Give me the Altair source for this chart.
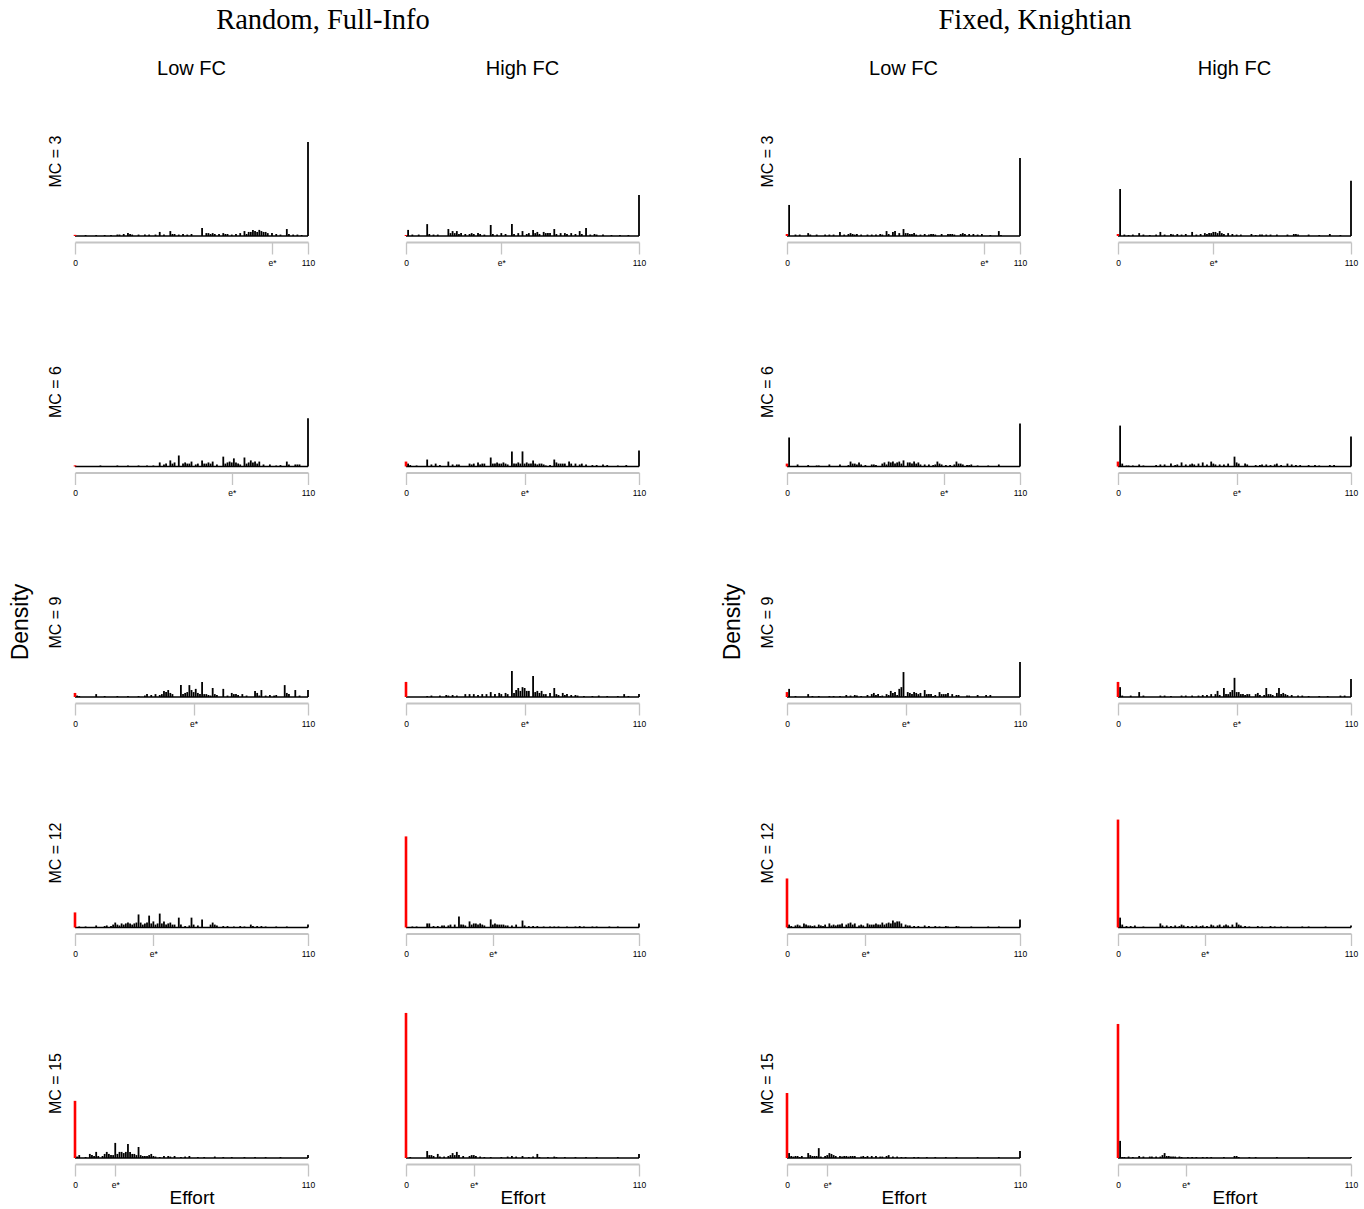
import altair as alt
import pandas as pd

# ---------------- labels ----------------
TREATMENTS = ["Random, Full-Info", "Fixed, Knightian"]
FC_LEVELS = ["Low FC", "High FC"]
MC_LEVELS = [3, 6, 9, 12, 15]
X_TITLE = "Effort"
Y_TITLE = "Density"
EFFORT_RANGE = [0, 110]
E_STAR_LOW_FC = [93, 74, 56, 37, 19]
E_STAR_HIGH_FC = [45, 56, 56, 41, 32]

# ---------------- densities (% of choices at each effort level) ----------------
RF_LOW_MC3 = {0: 0.4, 5: 0.35, 10: 0.35, 14: 0.35, 17: 0.35, 20: 0.5, 21: 0.5, 23: 0.7, 25: 1.0, 26: 0.7,
              27: 0.5, 30: 0.5, 33: 0.5, 35: 0.5, 38: 0.5, 40: 1.4, 42: 0.5, 45: 1.7, 46: 0.7, 47: 0.7,
              49: 0.5, 51: 0.7, 53: 0.5, 55: 0.7, 60: 2.8, 62: 1.0, 63: 1.0, 64: 0.7, 65: 1.0, 66: 0.7,
              68: 0.7, 70: 1.0, 71: 0.7, 72: 0.7, 74: 0.5, 76: 0.7, 78: 1.0, 80: 1.7, 81: 0.7, 82: 1.4,
              83: 1.4, 84: 2.1, 85: 1.7, 86: 1.4, 87: 2.1, 88: 1.7, 89: 1.4, 90: 1.4, 91: 1.0, 93: 1.0,
              95: 0.7, 97: 0.5, 100: 2.4, 101: 0.7, 103: 0.5, 105: 0.5, 107: 0.35, 110: 32.4}
RF_LOW_MC6 = {0: 0.4, 12: 0.35, 20: 0.35, 25: 0.35, 30: 0.35, 34: 0.35, 37: 0.35, 40: 1.4, 42: 0.7, 43: 1.0,
              45: 2.1, 46: 1.0, 47: 1.4, 49: 3.8, 51: 1.0, 52: 1.4, 53: 1.0, 54: 1.0, 55: 1.7, 57: 0.7,
              58: 1.0, 60: 2.1, 61: 1.0, 62: 1.0, 63: 1.4, 64: 1.0, 65: 1.7, 67: 0.7, 70: 3.4, 71: 1.0,
              72: 1.4, 73: 1.7, 74: 1.4, 75: 2.8, 76: 1.4, 77: 1.0, 78: 0.7, 80: 3.1, 81: 1.0, 82: 1.4,
              83: 2.1, 84: 1.4, 85: 1.7, 86: 1.0, 87: 1.7, 89: 0.7, 92: 0.7, 95: 0.35, 97: 0.5, 100: 1.7,
              101: 0.7, 104: 0.7, 105: 0.7, 106: 0.7, 110: 16.6}
RF_LOW_MC9 = {0: 1.4, 1: 0.5, 2: 0.35, 10: 1.0, 14: 0.35, 20: 0.35, 25: 0.35, 30: 0.35, 33: 0.5, 34: 1.0,
              36: 0.7, 38: 1.0, 40: 0.7, 41: 1.0, 42: 2.1, 43: 1.7, 44: 2.4, 45: 1.4, 46: 1.0, 50: 4.1,
              51: 1.0, 52: 1.4, 53: 1.7, 54: 4.1, 55: 2.4, 56: 1.7, 57: 2.8, 58: 1.4, 59: 1.0, 60: 5.2,
              61: 1.0, 62: 1.0, 63: 0.7, 64: 0.5, 65: 3.1, 66: 1.0, 67: 0.7, 70: 2.8, 72: 0.5, 74: 1.4,
              75: 1.0, 76: 1.0, 77: 0.7, 79: 1.0, 81: 0.5, 85: 2.1, 86: 1.4, 87: 0.5, 88: 2.4, 90: 0.5,
              92: 0.7, 94: 0.5, 95: 0.7, 99: 4.1, 100: 1.4, 101: 1.0, 104: 2.4, 106: 0.5, 110: 2.4}
RF_LOW_MC12 = {0: 5.2, 2: 0.35, 5: 0.35, 10: 0.7, 14: 0.5, 15: 0.7, 17: 0.5, 18: 1.0, 19: 1.7, 20: 1.0,
               21: 0.7, 22: 1.4, 23: 1.0, 24: 1.4, 25: 1.7, 26: 1.4, 27: 1.0, 28: 1.4, 29: 1.7, 30: 4.5,
               31: 1.7, 32: 1.0, 33: 1.4, 34: 1.7, 35: 4.1, 36: 1.4, 37: 2.1, 38: 1.0, 39: 1.4, 40: 4.8,
               41: 1.4, 42: 2.1, 43: 1.0, 44: 1.4, 45: 1.7, 46: 1.0, 47: 1.0, 49: 3.4, 50: 1.0, 52: 0.5,
               54: 0.7, 55: 3.4, 56: 1.0, 58: 0.7, 60: 2.8, 64: 1.0, 65: 1.7, 66: 1.0, 67: 0.7, 70: 0.5,
               72: 0.5, 75: 0.35, 78: 0.5, 80: 0.35, 83: 1.0, 84: 0.5, 86: 0.5, 88: 0.5, 90: 0.35,
               95: 0.35, 100: 0.35, 110: 1.0}
RF_LOW_MC15 = {0: 19.7, 1: 0.5, 2: 1.0, 5: 0.35, 7: 1.4, 8: 1.0, 9: 0.7, 10: 2.1, 11: 0.7, 13: 0.7,
               14: 1.4, 15: 2.1, 16: 1.4, 17: 1.0, 18: 1.0, 19: 5.2, 20: 1.4, 21: 2.1, 22: 2.1, 23: 1.7,
               24: 2.1, 25: 4.8, 26: 2.1, 27: 1.4, 28: 1.4, 29: 1.0, 30: 3.8, 31: 1.0, 32: 0.7, 33: 0.7,
               34: 0.7, 35: 1.0, 36: 1.4, 37: 0.7, 38: 0.5, 40: 0.35, 42: 0.7, 44: 0.7, 45: 0.5, 47: 0.7,
               50: 0.35, 52: 0.5, 54: 0.7, 58: 0.35, 61: 0.35, 66: 0.5, 70: 0.35, 74: 0.35, 80: 0.35,
               85: 0.35, 90: 0.35, 97: 0.35, 110: 1.0}

RF_HIGH_MC3 = {0: 0.35, 1: 2.1, 3: 0.5, 6: 0.5, 10: 4.1, 11: 0.7, 13: 0.5, 15: 0.5, 20: 2.4, 21: 1.0,
               22: 1.7, 23: 1.0, 24: 1.7, 25: 0.7, 26: 1.0, 28: 0.7, 30: 0.7, 31: 1.0, 32: 0.7, 34: 1.0,
               35: 0.7, 37: 0.5, 40: 3.8, 41: 0.7, 43: 0.5, 45: 1.0, 47: 0.7, 50: 4.1, 51: 0.7, 53: 1.0,
               55: 1.7, 57: 0.7, 58: 1.0, 60: 2.1, 61: 1.0, 62: 1.4, 63: 0.7, 65: 1.4, 66: 1.0, 67: 1.0,
               68: 1.0, 70: 2.4, 71: 0.7, 73: 1.0, 75: 1.0, 76: 0.7, 78: 1.0, 80: 0.7, 82: 1.7, 83: 0.7,
               85: 2.8, 87: 0.5, 89: 0.7, 90: 0.5, 93: 0.5, 97: 0.35, 101: 0.35, 105: 0.35, 110: 14.1}
RF_HIGH_MC6 = {0: 1.7, 1: 1.0, 2: 0.5, 5: 0.35, 10: 2.4, 12: 0.7, 14: 1.0, 16: 0.5, 20: 1.7, 22: 0.7,
               24: 0.7, 25: 0.7, 30: 1.0, 31: 0.7, 32: 1.0, 34: 1.4, 35: 0.7, 36: 1.0, 37: 1.0, 40: 3.1,
               41: 1.0, 42: 1.0, 43: 1.4, 44: 1.0, 45: 1.0, 46: 1.4, 47: 1.0, 48: 0.7, 50: 5.2, 51: 1.0,
               52: 1.0, 53: 1.4, 54: 1.0, 55: 5.2, 56: 1.0, 57: 1.4, 58: 1.0, 59: 1.0, 60: 2.1, 61: 1.0,
               62: 0.7, 63: 1.0, 64: 1.0, 65: 0.7, 66: 0.35, 68: 0.5, 70: 2.4, 71: 1.4, 72: 1.0, 73: 1.0,
               74: 1.0, 75: 1.0, 77: 1.7, 78: 1.0, 80: 1.0, 82: 0.7, 83: 1.0, 85: 0.7, 88: 0.5, 90: 0.5,
               93: 0.7, 95: 0.5, 100: 0.35, 104: 0.5, 110: 5.5}
RF_HIGH_MC9 = {0: 5.2, 10: 0.35, 12: 0.5, 16: 0.5, 19: 0.7, 20: 0.5, 22: 0.7, 24: 0.5, 28: 1.0, 30: 1.0,
               32: 1.0, 34: 0.7, 36: 1.0, 38: 1.0, 40: 1.7, 42: 1.0, 44: 1.4, 45: 1.0, 47: 1.4, 48: 1.0,
               50: 9.0, 51: 1.4, 52: 2.4, 53: 3.1, 54: 2.1, 55: 3.4, 56: 3.1, 57: 2.1, 58: 2.1, 60: 7.2,
               61: 1.7, 62: 2.1, 63: 1.4, 64: 2.1, 65: 1.0, 66: 1.0, 68: 1.4, 70: 3.1, 71: 1.0, 72: 0.7,
               74: 1.4, 75: 0.7, 76: 1.0, 78: 0.7, 80: 0.7, 81: 0.5, 84: 0.35, 88: 0.35, 91: 0.5,
               95: 0.35, 100: 0.35, 103: 1.0, 105: 0.35, 110: 1.0}
RF_HIGH_MC12 = {0: 31.4, 3: 0.35, 5: 0.35, 10: 1.4, 11: 1.4, 13: 0.5, 15: 0.5, 17: 0.7, 18: 0.7, 20: 0.7,
                21: 1.0, 23: 1.0, 25: 3.8, 26: 1.0, 27: 1.0, 28: 0.7, 30: 2.1, 31: 1.0, 32: 1.4, 33: 1.4,
                34: 1.0, 35: 1.4, 36: 1.0, 37: 0.7, 40: 2.8, 41: 1.0, 42: 1.4, 43: 1.0, 44: 1.0, 45: 1.0,
                46: 1.0, 47: 0.7, 48: 0.7, 50: 0.7, 52: 1.0, 55: 2.4, 56: 0.7, 58: 0.5, 60: 0.5, 62: 0.5,
                65: 0.35, 68: 0.35, 70: 0.35, 72: 0.35, 76: 0.35, 80: 0.35, 82: 0.5, 84: 0.35, 88: 0.35,
                90: 0.35, 96: 0.35, 100: 0.35, 110: 1.4}
RF_HIGH_MC15 = {0: 50.0, 2: 0.35, 10: 2.4, 11: 1.0, 12: 1.0, 13: 0.7, 15: 1.4, 16: 0.5, 18: 0.5, 20: 0.7,
                21: 1.0, 22: 1.7, 23: 1.0, 24: 2.1, 25: 1.0, 27: 0.7, 30: 0.7, 31: 1.0, 32: 1.0, 33: 0.7,
                35: 0.5, 37: 0.35, 40: 0.35, 45: 0.35, 48: 0.5, 50: 0.7, 52: 0.5, 55: 0.7, 58: 0.35,
                60: 0.5, 62: 1.4, 63: 0.35, 67: 0.35, 70: 0.5, 71: 0.35, 75: 0.35, 80: 0.35, 85: 0.35,
                90: 0.35, 100: 0.35, 110: 1.4}

FK_LOW_MC3 = {0: 0.7, 1: 10.7, 4: 0.5, 6: 0.5, 10: 1.0, 11: 0.5, 14: 0.5, 18: 0.5, 20: 0.5, 22: 0.5,
              25: 1.4, 27: 0.5, 29: 0.7, 30: 1.0, 31: 0.7, 32: 0.5, 33: 0.7, 35: 0.5, 38: 0.5, 40: 0.5,
              42: 0.5, 44: 0.7, 45: 0.5, 47: 1.7, 48: 0.7, 50: 1.4, 51: 1.7, 53: 1.0, 55: 2.4, 56: 1.0,
              57: 1.0, 58: 0.7, 59: 0.7, 60: 1.0, 61: 0.5, 63: 0.5, 65: 0.7, 67: 0.5, 68: 0.7, 69: 0.7,
              70: 0.5, 73: 0.7, 76: 0.7, 77: 0.7, 78: 0.7, 79: 0.5, 82: 0.7, 83: 1.0, 84: 0.7, 86: 0.7,
              88: 0.7, 90: 0.5, 92: 0.7, 96: 0.35, 100: 1.7, 101: 0.35, 110: 26.9}
FK_LOW_MC6 = {0: 1.0, 1: 10.0, 5: 0.7, 10: 0.5, 14: 0.35, 15: 0.35, 20: 0.7, 25: 0.7, 29: 0.5, 30: 1.7,
              31: 1.0, 32: 1.0, 33: 0.7, 34: 1.4, 35: 0.7, 37: 0.5, 40: 0.7, 41: 0.7, 42: 0.5, 45: 1.0,
              46: 1.4, 47: 0.7, 48: 1.7, 49: 1.4, 50: 1.7, 51: 1.0, 52: 1.4, 53: 1.7, 54: 1.0, 55: 2.1,
              57: 1.4, 58: 1.4, 59: 1.0, 60: 1.7, 61: 1.0, 62: 1.4, 63: 0.7, 65: 0.7, 67: 0.7, 69: 0.5,
              70: 0.7, 71: 1.7, 72: 1.0, 73: 0.7, 75: 0.5, 77: 0.5, 79: 0.7, 80: 1.7, 81: 1.0, 82: 1.0,
              83: 0.7, 85: 0.5, 86: 0.5, 87: 0.7, 90: 0.35, 95: 0.35, 100: 0.7, 110: 14.8}
FK_LOW_MC9 = {0: 1.7, 1: 2.8, 4: 0.35, 10: 1.0, 12: 0.35, 15: 0.35, 20: 0.35, 22: 0.35, 25: 0.35, 28: 0.7,
              30: 0.5, 32: 0.7, 33: 0.5, 35: 0.35, 38: 0.7, 40: 1.0, 41: 1.4, 42: 0.7, 43: 1.0, 44: 0.35,
              45: 0.5, 47: 1.0, 48: 0.7, 49: 2.1, 50: 1.4, 51: 1.7, 52: 0.7, 53: 2.8, 54: 3.4, 55: 8.6,
              56: 0.35, 57: 1.7, 58: 1.4, 59: 1.0, 60: 1.7, 61: 1.4, 62: 1.0, 63: 1.4, 65: 2.4, 66: 1.0,
              67: 1.0, 68: 1.0, 69: 0.35, 70: 0.7, 72: 1.7, 73: 1.0, 74: 1.0, 75: 1.0, 76: 1.4, 78: 1.0,
              80: 0.7, 81: 0.7, 85: 0.5, 86: 0.5, 90: 0.7, 94: 0.7, 96: 0.7, 110: 12.1}
FK_LOW_MC12 = {0: 16.9, 1: 1.0, 2: 0.5, 4: 0.7, 5: 1.0, 6: 0.7, 8: 1.4, 9: 1.0, 10: 0.7, 11: 0.7,
               12: 0.5, 13: 0.7, 15: 1.0, 16: 0.7, 17: 0.5, 18: 1.0, 20: 1.4, 21: 0.7, 22: 1.0, 23: 0.7,
               24: 1.0, 25: 1.0, 26: 1.4, 28: 1.0, 29: 1.4, 30: 1.7, 31: 1.0, 32: 1.4, 34: 0.7, 35: 1.0,
               36: 0.7, 38: 1.4, 39: 1.0, 40: 1.0, 41: 1.0, 42: 1.4, 43: 1.0, 44: 1.0, 45: 1.7, 46: 1.0,
               47: 1.4, 48: 1.7, 49: 1.4, 50: 2.4, 51: 1.7, 52: 2.1, 53: 2.1, 54: 1.4, 56: 1.0, 57: 0.7,
               58: 0.7, 60: 0.5, 62: 0.5, 65: 0.7, 67: 0.5, 70: 0.5, 72: 0.35, 75: 0.5, 76: 0.35,
               80: 0.5, 81: 0.35, 87: 0.35, 95: 0.35, 100: 0.35, 110: 2.8}
FK_LOW_MC15 = {0: 22.4, 1: 1.7, 2: 0.7, 3: 0.5, 4: 0.7, 5: 0.7, 6: 0.35, 7: 0.7, 10: 1.7, 11: 1.0,
               12: 0.7, 13: 0.7, 14: 0.7, 15: 3.4, 16: 0.5, 18: 0.7, 19: 1.0, 20: 1.7, 21: 1.4, 22: 1.0,
               23: 0.7, 25: 0.7, 26: 0.5, 27: 0.7, 28: 0.7, 29: 0.5, 30: 0.7, 31: 0.7, 32: 0.7, 35: 0.5,
               36: 0.7, 37: 0.35, 38: 0.7, 40: 0.7, 42: 0.7, 44: 0.5, 45: 0.5, 47: 0.7, 48: 1.0, 50: 0.5,
               52: 0.5, 54: 0.35, 56: 0.35, 60: 0.35, 62: 0.35, 66: 0.35, 70: 0.35, 75: 0.35, 80: 0.35,
               90: 0.35, 100: 0.35, 110: 2.4}

FK_HIGH_MC3 = {0: 0.7, 1: 16.2, 3: 0.5, 5: 0.35, 7: 0.5, 10: 1.0, 12: 0.5, 15: 0.35, 18: 0.5, 20: 1.4,
               22: 0.5, 25: 0.7, 26: 0.5, 28: 0.7, 30: 0.5, 32: 0.7, 35: 1.4, 37: 0.5, 39: 0.7, 41: 1.0,
               42: 0.7, 43: 1.0, 44: 1.0, 45: 1.4, 46: 1.4, 47: 1.0, 48: 1.7, 49: 1.0, 50: 0.7, 52: 1.0,
               54: 0.7, 56: 0.5, 58: 0.5, 63: 0.7, 65: 0.35, 67: 0.5, 68: 0.5, 70: 0.5, 72: 0.5, 75: 0.5,
               80: 0.5, 83: 0.7, 84: 0.7, 85: 0.5, 90: 0.5, 95: 0.35, 100: 0.7, 105: 0.35, 110: 19.0}
FK_HIGH_MC6 = {0: 1.7, 1: 14.1, 2: 1.0, 4: 0.35, 5: 0.35, 7: 0.35, 10: 0.7, 12: 0.35, 18: 0.5, 20: 0.7,
               22: 0.7, 25: 1.0, 27: 0.5, 28: 0.7, 30: 1.4, 32: 0.7, 34: 0.7, 35: 1.0, 36: 0.7, 38: 1.0,
               40: 1.4, 42: 0.7, 44: 1.7, 45: 1.0, 46: 0.7, 48: 0.7, 50: 0.7, 52: 1.0, 55: 3.4, 56: 1.4,
               57: 1.0, 60: 1.0, 61: 0.7, 65: 0.5, 67: 0.5, 68: 0.7, 70: 0.7, 72: 0.5, 74: 0.7, 75: 1.0,
               77: 0.5, 80: 1.0, 82: 0.7, 84: 0.5, 86: 0.5, 90: 0.5, 93: 0.5, 95: 0.35, 100: 0.5,
               102: 0.5, 110: 10.3}
FK_HIGH_MC9 = {0: 5.2, 1: 3.4, 2: 0.5, 6: 0.5, 10: 1.7, 12: 0.5, 20: 0.5, 22: 0.5, 25: 0.35, 30: 0.5,
               32: 0.5, 35: 0.5, 38: 0.5, 40: 0.7, 42: 0.7, 44: 1.0, 46: 1.0, 47: 2.1, 48: 0.7, 50: 3.1,
               51: 1.0, 52: 1.0, 53: 1.7, 54: 2.4, 55: 6.6, 56: 1.7, 57: 1.7, 58: 1.0, 59: 1.0, 60: 0.7,
               61: 1.0, 62: 1.0, 65: 1.0, 66: 1.4, 67: 0.7, 69: 0.7, 70: 3.1, 71: 1.0, 72: 1.0, 73: 0.7,
               75: 1.4, 76: 3.1, 77: 1.0, 78: 1.4, 79: 1.0, 80: 0.7, 82: 0.7, 85: 0.5, 87: 0.5, 90: 0.35,
               95: 0.35, 99: 0.35, 105: 0.5, 107: 0.5, 110: 6.2}
FK_HIGH_MC12 = {0: 37.2, 1: 3.4, 2: 1.0, 4: 0.5, 6: 0.5, 8: 0.7, 12: 0.35, 20: 1.4, 21: 0.7, 23: 0.7,
                25: 0.5, 27: 0.7, 29: 0.5, 30: 1.0, 31: 0.7, 33: 0.5, 35: 0.5, 37: 0.7, 39: 0.5, 40: 0.7,
                42: 0.5, 44: 1.0, 45: 0.7, 47: 0.7, 48: 1.0, 50: 0.7, 51: 1.0, 52: 0.7, 54: 1.0, 56: 1.7,
                57: 1.0, 58: 0.7, 60: 0.5, 62: 0.35, 66: 0.5, 68: 0.35, 72: 0.5, 74: 0.35, 77: 0.35,
                80: 0.35, 87: 0.35, 90: 0.35, 98: 0.35, 110: 0.7}
FK_HIGH_MC15 = {0: 46.2, 1: 5.9, 2: 0.35, 3: 0.35, 5: 0.5, 7: 0.35, 10: 0.7, 12: 0.5, 15: 0.5, 16: 0.5,
                18: 0.5, 20: 0.5, 21: 1.0, 22: 1.7, 23: 0.7, 24: 0.7, 25: 0.5, 26: 0.5, 27: 0.5, 29: 0.5,
                30: 0.35, 33: 0.35, 35: 0.35, 37: 0.35, 40: 0.35, 42: 0.35, 44: 0.35, 50: 0.35, 55: 0.7,
                56: 0.7, 57: 0.35, 62: 0.35, 65: 0.35, 75: 0.35, 90: 0.35, 110: 0.35}

HIST = {
    (TREATMENTS[0], FC_LEVELS[0]): [RF_LOW_MC3, RF_LOW_MC6, RF_LOW_MC9, RF_LOW_MC12, RF_LOW_MC15],
    (TREATMENTS[0], FC_LEVELS[1]): [RF_HIGH_MC3, RF_HIGH_MC6, RF_HIGH_MC9, RF_HIGH_MC12, RF_HIGH_MC15],
    (TREATMENTS[1], FC_LEVELS[0]): [FK_LOW_MC3, FK_LOW_MC6, FK_LOW_MC9, FK_LOW_MC12, FK_LOW_MC15],
    (TREATMENTS[1], FC_LEVELS[1]): [FK_HIGH_MC3, FK_HIGH_MC6, FK_HIGH_MC9, FK_HIGH_MC12, FK_HIGH_MC15],
}
E_STAR = {FC_LEVELS[0]: E_STAR_LOW_FC, FC_LEVELS[1]: E_STAR_HIGH_FC}

# ---------------- styling ----------------
SANS = "Liberation Sans"
SERIF = "Liberation Serif"
W, H = 233, 150
Y_MAX = 51.7
AXIS_GREY = "#c4c4c4"


def panel(treatment, fc, r):
    hist = HIST[(treatment, fc)][r]
    estar = E_STAR[fc][r]
    mc = MC_LEVELS[r]
    bottom = r == len(MC_LEVELS) - 1
    left = fc == FC_LEVELS[0]

    xscale = alt.Scale(domain=EFFORT_RANGE, nice=False, zero=False)
    yscale = alt.Scale(domain=[0, Y_MAX], nice=False)
    xaxis = alt.Axis(
        values=[EFFORT_RANGE[0], estar, EFFORT_RANGE[1]],
        labelExpr="datum.value == 0 ? '0' : (datum.value == 110 ? '110' : 'e*')",
        grid=False, domainColor=AXIS_GREY, domainWidth=2.2, tickColor=AXIS_GREY, tickWidth=1.3,
        tickSize=12, offset=6, labelFont=SANS, labelFontSize=8.5, labelColor="black",
        labelPadding=4, labelFlush=False, labelOverlap=False,
        titleFont=SANS, titleFontSize=19, titleFontWeight="normal", titleColor="black",
        titlePadding=0,
    )
    if left:
        yaxis = alt.Axis(labels=False, ticks=False, domain=False, grid=False,
                         titleFont=SANS, titleFontSize=16, titleFontWeight="normal",
                         titleColor="black", titlePadding=12)
        y_enc = alt.Y("density:Q", scale=yscale, axis=yaxis, title=f"MC = {mc}")
    else:
        y_enc = alt.Y("density:Q", scale=yscale, axis=None)
    x_enc = alt.X("effort:Q", scale=xscale, axis=xaxis, title=X_TITLE if bottom else None)

    df = pd.DataFrame({"effort": list(hist.keys()), "density": list(hist.values())})
    base_df = pd.DataFrame({"effort": [EFFORT_RANGE[0]], "effort_end": [EFFORT_RANGE[1]], "density": [0]})

    baseline = alt.Chart(base_df).mark_rule(color="black", strokeWidth=1.4).encode(
        x=x_enc, x2="effort_end:Q", y=y_enc)
    bars = alt.Chart(df).mark_rule().encode(
        x=x_enc, y=y_enc, y2=alt.datum(0),
        color=alt.condition("datum.effort == 0", alt.value("#ff0000"), alt.value("black")),
        strokeWidth=alt.condition("datum.effort == 0", alt.value(2.6), alt.value(1.8)),
    )
    layers = [baseline, bars]

    if r == 0:
        layers.append(alt.Chart(pd.DataFrame({"label": [fc]})).mark_text(
            font=SANS, fontSize=20, color="black", align="center", baseline="middle").encode(
            text="label:N", x=alt.value(W / 2), y=alt.value(-17)))
        if left:
            layers.append(alt.Chart(pd.DataFrame({"label": [treatment]})).mark_text(
                font=SERIF, fontSize=28.5, color="black", align="center", baseline="middle").encode(
                text="label:N", x=alt.value(248), y=alt.value(-66)))
    if r == 2 and left:
        layers.append(alt.Chart(pd.DataFrame({"label": [Y_TITLE]})).mark_text(
            font=SANS, fontSize=23, color="black", align="center", baseline="middle", angle=270).encode(
            text="label:N", x=alt.value(-54), y=alt.value(75)))
    return alt.layer(*layers).properties(width=W, height=H)


def spacer(w):
    return alt.Chart(pd.DataFrame({"s": [0]})).mark_point(opacity=0).encode(
        x=alt.value(0), y=alt.value(0)).properties(width=w, height=H)


cells = []
for r in range(len(MC_LEVELS)):
    cells += [
        panel(TREATMENTS[0], FC_LEVELS[0], r), spacer(49),
        panel(TREATMENTS[0], FC_LEVELS[1], r), spacer(99),
        panel(TREATMENTS[1], FC_LEVELS[0], r), spacer(49),
        panel(TREATMENTS[1], FC_LEVELS[1], r),
    ]

chart = alt.concat(
    *cells, columns=7, spacing={"row": 80.5, "column": 24.5}, bounds="flush", align="each"
).properties(
    padding={"left": 10, "top": 6, "right": 5, "bottom": 2}, background="white"
).configure_view(stroke=None)

chart.save("out.html", embed_options={"renderer": "svg", "actions": False})
